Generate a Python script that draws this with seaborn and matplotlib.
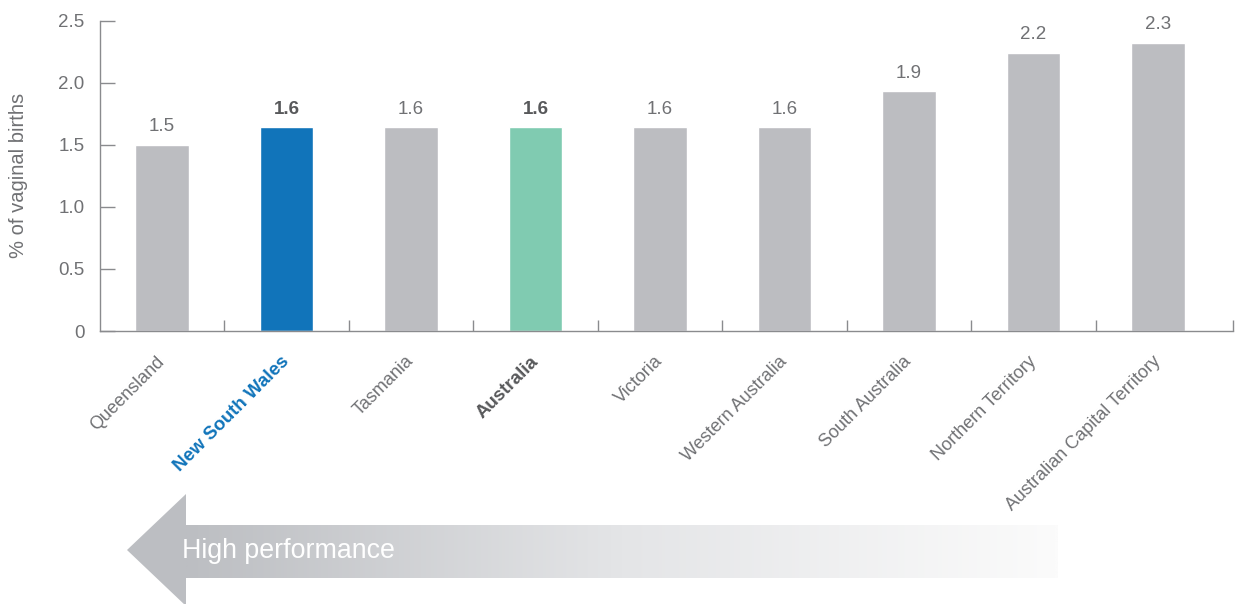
import numpy as np
import matplotlib
matplotlib.use("Agg")
import matplotlib.pyplot as plt
import seaborn as sns
from matplotlib.colors import LinearSegmentedColormap
from matplotlib.patches import Polygon

# Data
states = ["Queensland", "New South Wales", "Tasmania", "Australia", "Victoria",
          "Western Australia", "South Australia", "Northern Territory",
          "Australian Capital Territory"]
rates = [1.50, 1.64, 1.64, 1.64, 1.64, 1.64, 1.93, 2.24, 2.32]
y_ticks = [0, 0.5, 1.0, 1.5, 2.0, 2.5]
y_tick_labels = ["0", "0.5", "1.0", "1.5", "2.0", "2.5"]

GREY_BAR = "#bcbdc1"
NSW_BLUE = "#1174ba"
AUS_TEAL = "#80cbb1"
TEXT_GREY = "#707174"
DARK_GREY = "#58595b"
AXIS_GREY = "#8a8b8e"

bar_colors = {s: GREY_BAR for s in states}
bar_colors["New South Wales"] = NSW_BLUE
bar_colors["Australia"] = AUS_TEAL

sns.set_theme(style="white")
plt.rcParams["font.family"] = ["Liberation Sans", "DejaVu Sans"]

W, H = 1238, 604
fig = plt.figure(figsize=(W / 100, H / 100), dpi=100)
ax = fig.add_axes([99.75 / W, 1 - 331 / H, 1133 / W, (331 - 20.7) / H])

sns.barplot(x=states, y=rates, hue=states, palette=bar_colors, width=0.43,
            legend=False, saturation=1, ax=ax)

ax.set_xlim(-0.5, 8.6)
ax.set_ylim(0, 2.5)

# Spines and ticks
for side in ("top", "right"):
    ax.spines[side].set_visible(False)
for side in ("left", "bottom"):
    ax.spines[side].set_color(AXIS_GREY)
    ax.spines[side].set_linewidth(1.0)

ax.set_yticks(y_ticks)
ax.set_yticklabels(y_tick_labels)
ax.tick_params(axis="y", direction="in", length=11, width=1.0, color=AXIS_GREY,
               pad=11, labelsize=13.5, labelcolor=TEXT_GREY, left=True)

ax.set_xticks(range(len(states)))
ax.set_xticklabels(states, rotation=45, ha="right", va="center",
                   rotation_mode="anchor")
ax.tick_params(axis="x", length=0, pad=20, labelsize=13, labelcolor=TEXT_GREY)
ax.set_xticks([i + 0.5 for i in range(len(states) - 1)] + [8.6], minor=True)
ax.tick_params(axis="x", which="minor", direction="in", length=8, width=1.0,
               color=AXIS_GREY, bottom=True)

for lab in ax.get_xticklabels():
    if lab.get_text() == "New South Wales":
        lab.set_color(NSW_BLUE)
        lab.set_fontweight("bold")
        lab.set_fontsize(13.5)
    elif lab.get_text() == "Australia":
        lab.set_color(DARK_GREY)
        lab.set_fontweight("bold")
        lab.set_fontsize(13.5)

ax.set_xlabel("")
ax.set_ylabel("% of vaginal births", fontsize=14.5, color=TEXT_GREY)
ax.yaxis.label.set_va("center")
ax.yaxis.set_label_coords((18 - 99.75) / 1133, 0.5)

# Value labels above bars
for i, (s, v) in enumerate(zip(states, rates)):
    bold = s in ("New South Wales", "Australia")
    ax.annotate(f"{v:.1f}", xy=(i, v), xytext=(0, 10), textcoords="offset points",
                ha="center", va="baseline", fontsize=13.5,
                color=DARK_GREY if bold else TEXT_GREY,
                fontweight="bold" if bold else "normal")

# "High performance" arrow along the bottom, in pixel coordinates
over = fig.add_axes([0, 0, 1, 1], zorder=-1)
over.set_xlim(0, W)
over.set_ylim(H, 0)
over.axis("off")
fade = LinearSegmentedColormap.from_list("fade", ["#bcbec2", "#e4e5e7", "#fbfbfb"])
grad = np.linspace(0, 1, 512).reshape(1, -1)
over.imshow(grad, cmap=fade, aspect="auto", extent=[185, 1058, 578, 525],
            interpolation="bilinear")
over.add_patch(Polygon([[127, 550], [186, 494], [186, 606]], closed=True,
                       facecolor="#bcbec2", edgecolor="none"))
over.text(182, 551, "High performance", color="white", fontsize=19.3,
          ha="left", va="center")

fig.savefig("out.png", dpi=100)
